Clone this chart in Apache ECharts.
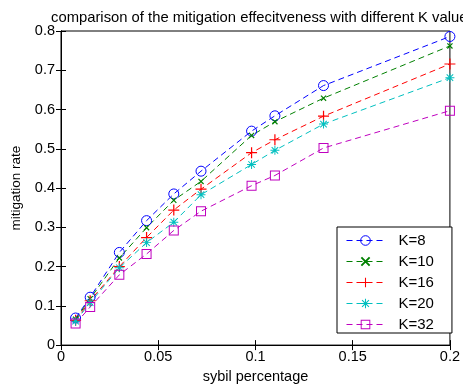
<!DOCTYPE html>
<html>
<head>
<meta charset="utf-8">
<script src="https://cdn.jsdelivr.net/npm/echarts@6/dist/echarts.min.js"></script>
<style>
  html, body { margin: 0; padding: 0; background: #fff; }
  #chart { width: 463px; height: 389px; }
</style>
</head>
<body>
<div id="chart"></div>
<script>
// sybil percentage (x)
const sybil = [0.0075, 0.015, 0.03, 0.044, 0.058, 0.072, 0.098, 0.11, 0.135, 0.2]
// mitigation rate per K
const k8 = [0.069, 0.122, 0.236, 0.317, 0.385, 0.443, 0.545, 0.584, 0.661, 0.786]
const k10 = [0.066, 0.118, 0.222, 0.299, 0.369, 0.417, 0.534, 0.569, 0.629, 0.762]
const k16 = [0.063, 0.113, 0.2, 0.274, 0.344, 0.397, 0.49, 0.523, 0.583, 0.716]
const k20 = [0.061, 0.108, 0.197, 0.261, 0.313, 0.383, 0.46, 0.496, 0.563, 0.681]
const k32 = [0.055, 0.097, 0.179, 0.232, 0.292, 0.341, 0.406, 0.432, 0.502, 0.597]

const names = ['K=8', 'K=10', 'K=16', 'K=20', 'K=32']
const colors = ['#0000ff', '#008000', '#ff0000', '#00bfbf', '#bf00bf']

// matlab-like markers drawn as thin filled outlines
const xPath = 'M0,1.4L1.4,0L10,8.6L8.6,10ZM8.6,0L10,1.4L1.4,10L0,8.6Z'
const plusPath = 'M4.45,0L5.55,0L5.55,10L4.45,10ZM0,4.45L10,4.45L10,5.55L0,5.55Z'
const starPath = plusPath + 'M1,1.8L1.8,1L9,8.2L8.2,9ZM8.2,1L9,1.8L1.8,9L1,8.2Z'
const squarePath = 'M0,0L10,0L10,10L0,10ZM1,1L1,9L9,9L9,1Z'
const symbols = ['circle', 'path://' + xPath, 'path://' + plusPath, 'path://' + starPath, 'path://' + squarePath]
const sizes = [10, 6, 11, 9, 10]
const values = [k8, k10, k16, k20, k32]

const font = 'Liberation Sans, Arial, sans-serif'
const fs = 14.5
const chart = echarts.init(document.getElementById('chart'))

const markStyle = (i) => i === 0
  ? { color: 'transparent', borderColor: colors[i], borderWidth: 1 }
  : { color: colors[i], borderWidth: 0 }

const series = values.map((v, i) => ({
  name: names[i],
  type: 'line',
  data: sybil.map((x, j) => [x, v[j]]),
  symbol: symbols[i],
  symbolSize: sizes[i],
  showAllSymbol: true,
  lineStyle: { color: colors[i], width: 1, type: [6, 4] },
  itemStyle: markStyle(i),
  emphasis: { disabled: true },
  animation: false
}))

const legendData = names.map((n, i) => ({
  name: n,
  itemStyle: markStyle(i),
  lineStyle: { color: colors[i], width: 1, type: [6, 4] }
}))

const tickStyle = { show: true, inside: true, length: 5, lineStyle: { color: '#000' } }

chart.setOption({
  animation: false,
  title: {
    text: 'comparison of the mitigation effecitveness with different K value',
    left: 46,
    top: 5,
    textStyle: { fontFamily: font, fontSize: 14.8, fontWeight: 'normal', color: '#000' }
  },
  grid: { left: 61, top: 31, right: 9, bottom: 36, show: true, borderColor: '#000', borderWidth: 1 },
  legend: {
    left: 337,
    top: 227,
    orient: 'vertical',
    data: legendData,
    itemWidth: 38,
    itemHeight: 12,
    itemGap: 6,
    padding: [6, 18, 1, 9],
    borderColor: '#000',
    borderWidth: 1,
    backgroundColor: '#fff',
    textStyle: { fontFamily: font, fontSize: 15, lineHeight: 14, color: '#000', padding: [0, 0, 0, 9] }
  },
  xAxis: [
    {
      type: 'value', min: 0, max: 0.2, interval: 0.05,
      name: 'sybil percentage', nameLocation: 'middle', nameGap: 23,
      nameTextStyle: { fontFamily: font, fontSize: fs, color: '#000' },
      axisLine: { lineStyle: { color: '#000' } },
      axisTick: tickStyle,
      axisLabel: { fontFamily: font, fontSize: fs, color: '#000', margin: 4 },
      splitLine: { show: false }
    },
    {
      type: 'value', position: 'top', min: 0, max: 0.2, interval: 0.05,
      axisLine: { lineStyle: { color: '#000' } },
      axisTick: tickStyle, axisLabel: { show: false }, splitLine: { show: false }
    }
  ],
  yAxis: [
    {
      type: 'value', min: 0, max: 0.8, interval: 0.1,
      name: 'mitigation rate', nameLocation: 'middle', nameGap: 38,
      nameTextStyle: { fontFamily: font, fontSize: 13.5, color: '#000' },
      axisLine: { show: true, lineStyle: { color: '#000' } },
      axisTick: tickStyle,
      axisLabel: { fontFamily: font, fontSize: fs, color: '#000', margin: 6 },
      splitLine: { show: false }
    },
    {
      type: 'value', position: 'right', min: 0, max: 0.8, interval: 0.1,
      axisLine: { show: true, lineStyle: { color: '#000' } },
      axisTick: tickStyle, axisLabel: { show: false }, splitLine: { show: false }
    }
  ],
  series: series
})
</script>
</body>
</html>
